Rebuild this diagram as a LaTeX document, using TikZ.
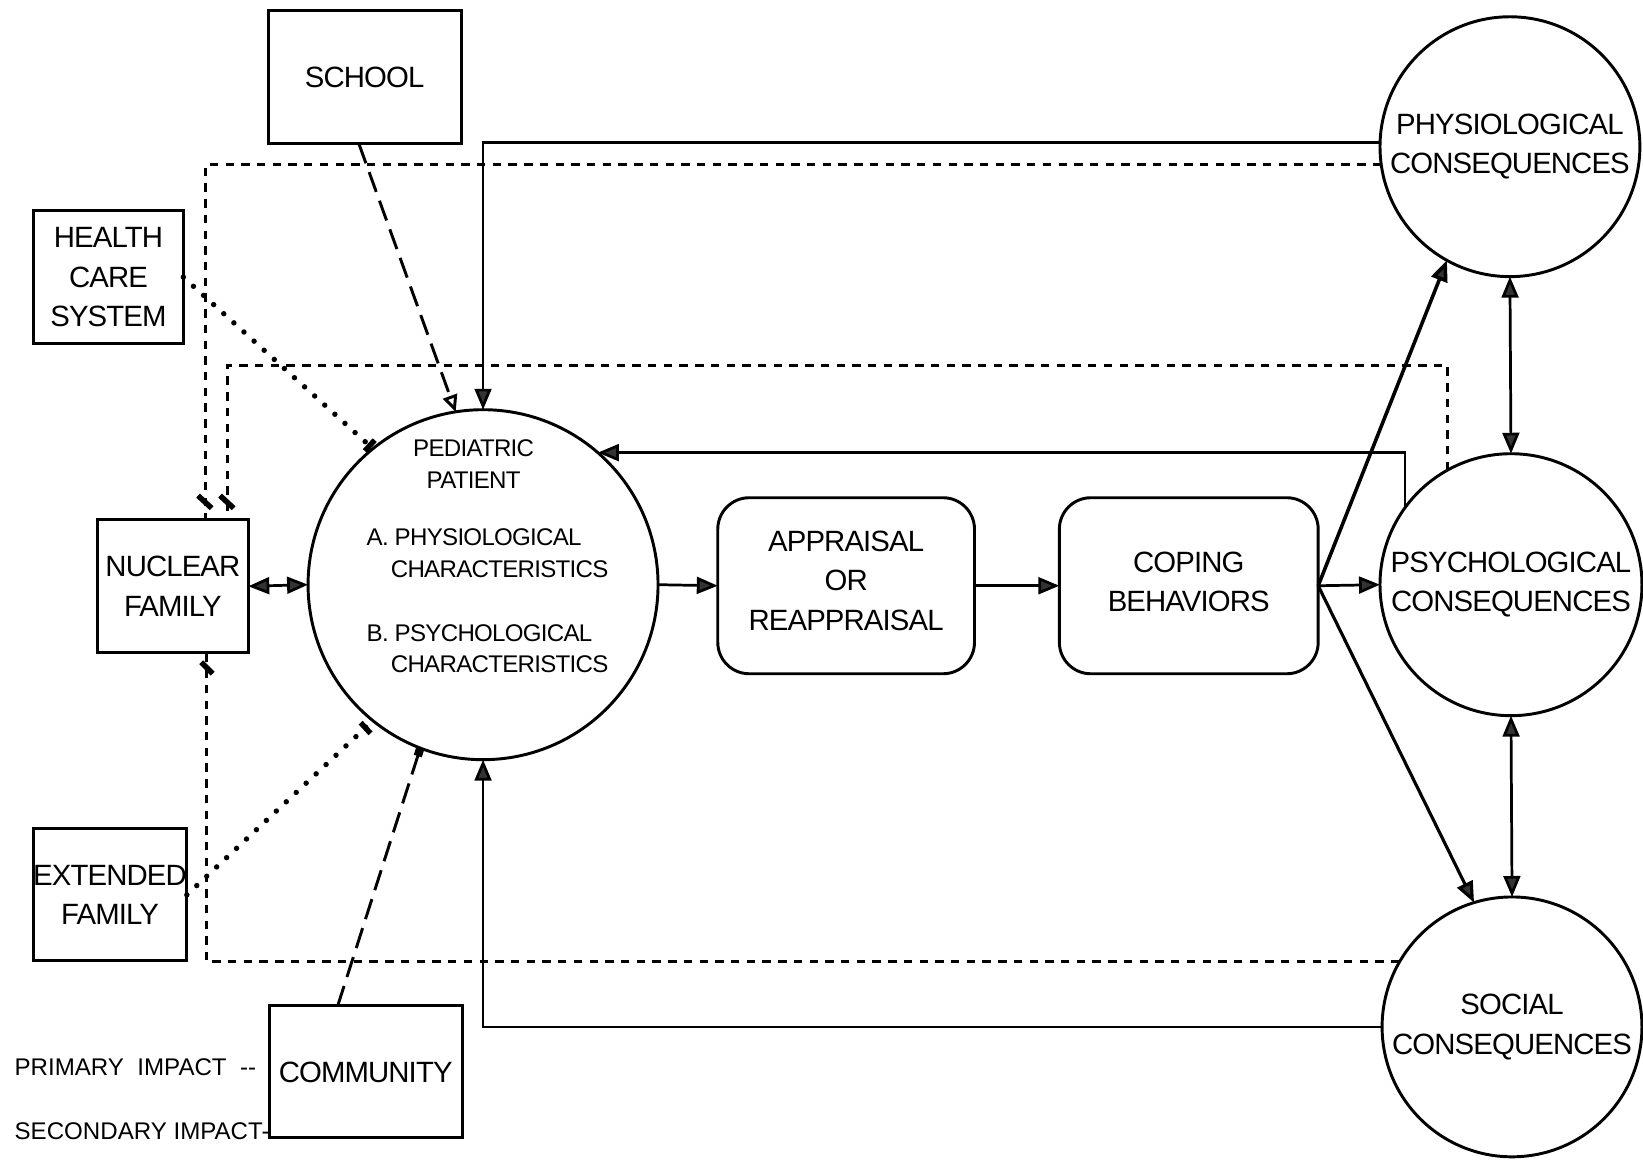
\documentclass[tikz,border=0pt]{standalone}
\usepackage{fontspec}
\setmainfont{Liberation Sans}[LetterSpace=-3]
\newfontfamily\legfont{Liberation Sans}
\usetikzlibrary{arrows.meta,calc}
\newcommand\biglab{\fontsize{14}{18.75}\selectfont}
\newcommand\medlab{\fontsize{11.5}{15}\selectfont}
\newcommand\leglab{\legfont\fontsize{11.5}{13}\selectfont}
\begin{document}
\begin{tikzpicture}[x=0.5pt,y=-0.5pt,
  every node/.style={inner sep=0pt, outer sep=0pt},
  box/.style={draw, line width=1.4pt, rectangle, align=center, font=\biglab, fill=white},
  rbox/.style={box, rounded corners=15pt},
  circ/.style={draw, line width=1.4pt, circle, align=center, font=\biglab, fill=white},
  ar/.style={line width=1.3pt, -{Triangle[length=10pt,width=8pt,fill=black!80]}},
  dar/.style={line width=1.3pt, {Triangle[length=10pt,width=8pt,fill=black!80]}-{Triangle[length=10pt,width=8pt,fill=black!80]}},
  dline/.style={line width=1.4pt, dash pattern=on 4pt off 3.5pt},
  ldash/.style={line width=1.4pt, dash pattern=on 10pt off 4.5pt},
  dots/.style={line width=2.6pt, line cap=round, dash pattern=on 0pt off 6.5pt},
  tickmk/.style={line width=2.6pt}
]
\fill[white] (0,0) rectangle (1568,1108);
\useasboundingbox (0,0) rectangle (1568,1108);

% nodes
\node[box, minimum width=92pt, minimum height=63.5pt] (sch) at (348,73.5) {SCHOOL};
\node[box, minimum width=71.5pt, minimum height=63.5pt] (hcs) at (103.5,264.5) {HEALTH\\CARE\\SYSTEM};
\node[box, minimum width=72pt, minimum height=63.5pt] (nuc) at (165,559.5) {NUCLEAR\\FAMILY};
\node[box, minimum width=72pt, minimum height=63pt] (ext) at (105,854) {EXTENDED\\FAMILY};
\node[box, minimum width=92pt, minimum height=63pt] (com) at (349,1023) {COMMUNITY};
\node[rbox, minimum width=122.5pt, minimum height=84pt] (app) at (807.5,559) {APPRAISAL\\OR\\REAPPRAISAL\\[-13.75pt]};
\node[rbox, minimum width=123.5pt, minimum height=84pt] (cop) at (1134.5,559) {COPING\\BEHAVIORS\\[-15.25pt]};
\node[circ, minimum size=167pt] (ped) at (461,558) {};
\node[circ, minimum size=124pt] (phys) at (1441,140) {PHYSIOLOGICAL\\CONSEQUENCES};
\node[circ, minimum size=125pt] (psy) at (1442,558) {PSYCHOLOGICAL\\CONSEQUENCES};
\node[circ, minimum size=124pt] (soc) at (1443,980) {SOCIAL\\CONSEQUENCES};

% texts inside the pediatric circle
\node[font=\medlab, align=center] (pedt) at (452,443) {PEDIATRIC\\PATIENT};
\node[font=\medlab, anchor=base west] (pa1) at (350,521) {A. PHYSIOLOGICAL};
\node[font=\medlab, anchor=base west] (pa2) at (373,551) {CHARACTERISTICS};
\node[font=\medlab, anchor=base west] (pb1) at (350,612) {B. PSYCHOLOGICAL};
\node[font=\medlab, anchor=base west] (pb2) at (373,642) {CHARACTERISTICS};

% legend
\node[font=\leglab, anchor=base west] (leg1) at (14,1026) {PRIMARY\ \ IMPACT\ \ -{}-};
\node[font=\leglab, anchor=base west] (leg2) at (14,1087) {SECONDARY IMPACT-};

% named end points on the nuclear family box
\coordinate (nt1) at ($(nuc.north west)+(103,0)$);
\coordinate (nt2) at ($(nuc.north west)+(124,0)$);
\coordinate (nb) at ($(nuc.south west)+(104,0)$);

% dashed feedback loops
\draw[dline] (phys.188) -| (nt1);
\draw[dline] (psy.119) -- ++(0,-100) -| (nt2);
\draw[dline] (soc.150) -| (nb);
\draw[tickmk] ($(nt1)+(-7,-23)$) -- ++(13,12);
\draw[tickmk] ($(nt2)+(-7,-23)$) -- ++(13,12);
\draw[tickmk] ($(nb)+(-5,9)$) -- ++(11,11);

% environment influences
\draw[ldash, -{Triangle[open, length=8pt, width=7pt, fill=white]}] (sch.-95) -- (ped.99);
\draw[dots] (hcs.east) -- (ped.129);
\draw[tickmk] ($(ped.129)+(-7.7,2.2)$) -- ($(ped.129)+(1.7,-8.2)$);
\draw[dots] (ext.east) -- (ped.231);
\draw[tickmk] ($(ped.231)+(-11.7,1.9)$) -- ($(ped.231)+(-2.3,12.1)$);
\draw[ldash, -{Square[length=4pt,width=4pt]}] (com.113) -- (ped.249);

% solid connectors
\draw[ar] (phys.178) -| (ped.north);
\draw[ar] (psy.144) |- (ped.49);
\draw[ar] (soc.west) -| (ped.south);
\draw[ar] (ped.east) -- (app.west);
\draw[ar] (app.east) -- (cop.west);
\draw[ar] (cop.east) -- (psy.west);
\draw[ar, line width=1.7pt] (cop.east) -- (phys.241);
\draw[ar, line width=1.5pt] (cop.east) -- (soc.107);
\draw[dar] (phys.south) -- (psy.north);
\draw[dar] (psy.south) -- (soc.north);
\draw[dar] (nuc.east) -- (ped.west);
\end{tikzpicture}
\end{document}
